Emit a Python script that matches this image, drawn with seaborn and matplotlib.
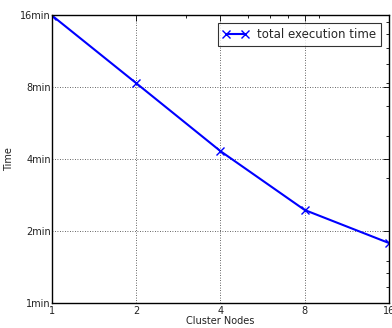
import numpy as np
import pandas as pd
import matplotlib
matplotlib.use("Agg")
import matplotlib.pyplot as plt
import matplotlib.ticker as mticker
import seaborn as sns

# cluster size vs. total runtime (seconds)
nodes = [1, 2, 4, 8, 16]
exec_seconds = [955, 498, 259, 147, 107]
ytick_secs = [60, 120, 240, 480, 960]
xtick_nodes = [1, 2, 4, 8, 16]

df = pd.DataFrame({"nodes": nodes, "seconds": exec_seconds})

sns.set_style("white")
plt.rcParams["font.family"] = ["DejaVu Sans"]

fig = plt.figure(figsize=(3.92, 3.28), dpi=100)
ax = fig.add_axes([0.133, 0.076, 0.859, 0.878])

sns.lineplot(data=df, x="nodes", y="seconds", ax=ax, color="#0000ff",
             marker="x", markersize=5.5, markeredgewidth=1.0,
             markeredgecolor="#0000ff", linewidth=1.5,
             label="total execution time")

ax.set_xscale("log", base=2)
ax.set_yscale("log", base=2)
ax.set_xlim(1, 16)
ax.set_ylim(60, 960)

ax.xaxis.set_major_locator(mticker.FixedLocator(xtick_nodes))
ax.xaxis.set_major_formatter(mticker.FuncFormatter(lambda v, p: "%d" % v))
ax.xaxis.set_minor_locator(mticker.LogLocator(base=10, subs=np.arange(2, 10)))
ax.xaxis.set_minor_formatter(mticker.NullFormatter())

ax.yaxis.set_major_locator(mticker.FixedLocator(ytick_secs))
ax.yaxis.set_major_formatter(mticker.FuncFormatter(lambda v, p: "%dmin" % round(v / 60)))
ax.yaxis.set_minor_locator(mticker.LogLocator(base=10, subs=np.arange(2, 10)))
ax.yaxis.set_minor_formatter(mticker.NullFormatter())

ax.tick_params(which="both", direction="in", top=True, right=True, colors="black",
               labelcolor="#222222", labelsize=7)
ax.tick_params(which="major", length=4, width=0.6)
ax.tick_params(which="minor", length=2, width=0.6)
ax.tick_params(axis="x", pad=2)
ax.tick_params(axis="y", pad=1)

ax.grid(True, which="major", color="#333333", linestyle=(0, (1, 2)), linewidth=0.6)
for s in ax.spines.values():
    s.set_color("black")
    s.set_linewidth(1.0)

ax.set_xlabel("Cluster Nodes", fontsize=7, color="#222222", labelpad=0)
ax.set_ylabel("Time", fontsize=7, color="#222222", labelpad=4)

handles = ax.get_lines()[:1]
leg = ax.legend(handles, ["total execution time"], loc="upper right", fontsize=8.5,
                numpoints=2, fancybox=False, frameon=True, borderpad=0.4,
                handlelength=2.2, handletextpad=0.7, borderaxespad=0.7)
leg.get_frame().set_edgecolor("black")
leg.get_frame().set_linewidth(0.8)

fig.savefig("out.png", dpi=100)
